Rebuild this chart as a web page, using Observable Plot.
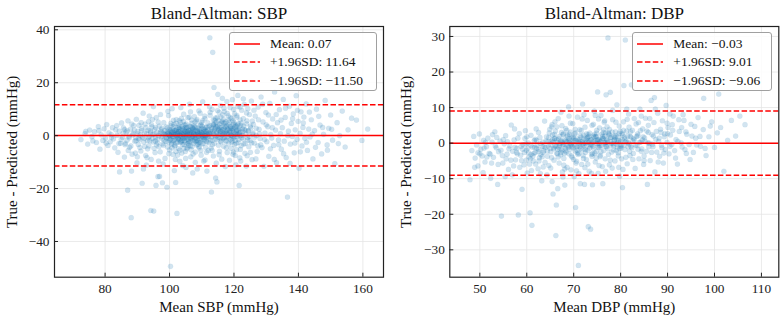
<!DOCTYPE html>
<html>
<head>
<meta charset="utf-8">
<script src="https://cdn.jsdelivr.net/npm/d3@7"></script>
<script src="https://cdn.jsdelivr.net/npm/@observablehq/plot@0.6"></script>
<style>
  body { margin: 0; background: #fff; font-family: "Liberation Serif", serif; }
  #row { display: flex; width: 783px; height: 321px; }
  .panel { position: relative; }
  .legend {
    position: absolute; box-sizing: border-box;
    background: rgba(255,255,255,0.85);
    border: 1px solid #a0a0a0; border-radius: 3px;
    font-family: "Liberation Serif", serif; font-size: 13.5px; color: #111;
  }
  .legend .item { position: absolute; left: 0; display: flex; align-items: center; height: 14px; white-space: nowrap; }
  .legend svg { display: block; }
</style>
</head>
<body>
<div id="row"></div>
<script>
// Bland-Altman points: [mean of true & predicted, true - predicted], mmHg
const sbpPoints = [
  [72.5,-1.5],[73.8,0.8],[74.6,-3.2],[75.2,2.1],[75.9,-0.4],[76.7,1.5],[77.3,-2.6],[77.9,3.4],[78.4,-5.1],[78.8,0.3],[79.3,-1.8],[79.7,2.6],[80.1,-0.9],[80.5,4.2],[80.9,-3.7],
  [81.2,1.1],[81.6,-2.3],[81.9,0.4],[82.3,3.0],[82.6,-1.2],[83.0,-4.6],[83.3,2.2],[83.7,0.1],[84.0,-6.3],[84.5,-13.7],[84.4,1.7],[84.8,-2.9],[85.1,4.8],[85.4,-0.6],[85.7,2.9],[86.0,-8.1],[86.2,-3.4],[86.5,1.3],[86.8,-1.7],[87.0,-20.6],[87.1,5.6],[87.4,-0.2],[87.6,-4.4],[87.9,2.5],[88.1,-31.0],[88.2,-13.4],[88.4,-7.0],[88.7,0.9],[88.9,3.8],[89.2,-2.1],
  [89.5,-0.8],[89.7,6.2],[89.9,-10.3],[90.1,1.6],[90.3,-3.3],[90.5,3.9],[90.7,-1.5],[90.9,0.2],[91.1,-5.8],[91.3,2.7],[91.5,-18.0],[91.6,-0.6],[91.8,8.5],[92.0,-2.4],[92.2,1.0],[92.4,4.4],[92.6,-7.5],[92.8,-11.1],[92.9,0.7],[93.1,-1.9],[93.3,2.0],[93.5,5.3],[93.6,-3.9],[93.8,-0.3],[94.0,1.8],[94.2,-28.3],[94.3,-9.0],[94.5,3.3],[94.6,-1.1],[94.8,0.5],[95.0,11.0],[95.1,-28.5],[95.2,-4.8],[95.4,2.4],[95.6,-0.7],[95.8,-18.8],[95.9,6.8],[96.1,1.2],[96.3,-2.7],[96.4,-15.5],[96.6,0.0],[96.8,3.6],[96.9,-15.4],[97.1,-6.1],[97.3,1.5],
  [97.5,-0.4],[97.6,2.8],[97.8,-17.8],[97.9,-3.1],[98.0,0.9],[98.2,4.9],[98.3,-1.6],[98.5,1.9],[98.6,-8.6],[98.8,0.3],[98.9,-2.2],[99.0,3.3],[99.2,-19.5],[99.3,0.7],[99.4,-4.3],[99.5,1.4],[99.7,7.6],[99.8,-0.9],[99.9,2.3],[100.0,-5.4],[100.1,0.1],[100.2,1.7],[100.3,-49.4],[100.4,-1.3],[100.5,3.8],[100.6,-2.8],[100.7,0.6],[100.8,10.2],[100.9,-0.2],[101.0,2.6],[101.1,-7.1],[101.2,1.1],[101.3,-1.8],[101.4,4.3],[101.5,-13.2],[101.6,0.4],[101.7,-3.6],[101.8,2.0],[101.9,-17.7],[102.0,-0.5],[102.1,6.1],[102.2,1.3],[102.3,-29.4],[102.4,-2.4],[102.5,0.8],[102.6,3.0],[102.7,-0.8],[102.8,-4.9],[102.9,1.6],[103.0,-1.5],[103.1,2.7],[103.2,-9.7],[103.3,0.2],[103.4,5.0],[103.5,-2.0],[103.6,1.0],[103.7,-0.3],[103.8,-6.6],[103.9,3.5],[104.0,0.5],[104.1,-11.3],[104.2,-1.1],[104.3,2.2],[104.4,8.1],[104.5,-3.3],[104.6,0.9],[104.7,1.8],[104.8,-0.6],[104.9,4.0],[105.0,-2.6],[105.1,-12.0],[105.2,0.0],[105.3,2.9],[105.4,-5.0],[105.5,1.4],[105.6,-1.4],[105.7,6.8],[105.8,0.3],[105.9,-3.8],[106.0,2.1],[106.1,-0.7],[106.2,11.9],[106.3,1.2],[106.4,-2.3],[106.5,3.4],[106.6,-8.0],[106.7,0.6],[106.8,-1.0],[106.9,4.6],[107.0,-4.1],[107.1,1.7],[107.2,-14.1],[107.3,-0.4],[107.4,2.5],[107.5,-2.9],[107.6,0.8],[107.7,7.2],[107.8,-1.7],[107.9,3.1],[108.0,-6.2],[108.1,0.1],[108.2,1.9],[108.3,-0.9],[108.4,5.5],[108.5,-3.5],[108.6,-12.6],[108.7,1.3],[108.8,-1.9],[108.9,2.8],[109.0,-0.2],[109.1,9.4],[109.2,-4.6],[109.3,0.7],[109.4,2.2],[109.5,-2.5],[109.6,0.4],[109.7,4.1],[109.8,-7.4],[109.9,1.0],[110.0,-1.2],[110.1,3.6],[110.2,-0.5],[110.3,12.8],[110.4,-3.0],[110.5,1.5],[110.6,-9.6],[110.7,0.2],[110.8,2.4],[110.9,-1.6],[111.0,6.4],[111.1,-0.1],[111.2,-4.4],[111.3,1.8],[111.4,-2.1],[111.5,3.2],[111.6,-13.4],[111.7,0.5],[111.8,-0.8],[111.9,4.8],[112.0,-5.6],[112.1,1.1],
  [98.4,0.5],[99.1,-1.0],[99.6,0.9],[100.2,-0.3],[100.6,1.2],[101.0,-2.0],[101.4,0.7],[101.9,1.8],[102.3,0.0],[102.7,-1.2],[103.1,0.6],[103.5,2.3],[103.9,-1.7],[104.3,0.3],[104.6,-0.9],[105.0,1.6],[105.4,0.4],[105.8,-1.9],[106.2,0.9],[106.6,2.1],[107.0,-0.6],[107.4,1.0],[107.8,0.2],[108.2,-2.2],[108.6,1.4],[109.0,0.8],[109.4,-1.3],[109.8,2.6],[110.2,0.3],[110.6,-0.7],[111.0,1.7],[111.4,0.1],[100.4,4.6],[101.6,-4.0],[102.9,3.9],[104.0,-3.4],[105.2,4.4],[106.4,-3.9],[107.6,3.7],[108.8,-3.2],[110.0,4.9],[103.3,-2.6],[104.8,2.9],[106.0,-2.4],[107.2,2.7],[105.6,3.1],[104.4,-4.8],[103.0,5.7],[102.0,-6.0],[106.8,5.9],
  [112.2,3.3],[112.3,-2.7],[112.4,0.6],[112.5,37.0],[112.6,7.7],[113.0,-21.3],[112.8,1.4],[112.9,-4.7],[113.0,2.9],[113.1,-0.5],[113.2,9.9],[113.3,-1.8],[113.4,31.5],[113.5,4.2],[113.6,-7.7],[113.7,0.9],[113.8,18.2],[113.9,-2.9],[114.0,2.0],[114.1,5.8],[114.3,-16.0],[114.3,-0.2],[114.4,3.7],[114.5,-10.4],[114.6,1.1],[114.7,-17.5],[114.8,6.9],[114.9,-1.4],[115.0,15.6],[115.1,2.5],[115.2,-3.6],[115.3,0.4],[115.4,8.8],[115.5,-5.9],[115.6,3.0],[115.7,-0.8],[115.8,11.4],[115.9,1.6],[116.0,-2.4],[116.1,4.7],[116.2,-8.9],[116.3,0.3],[116.4,14.1],[116.5,2.2],[116.6,-1.1],[116.7,6.2],[116.8,-4.0],[116.9,1.0],[117.0,9.1],[117.1,-0.6],[117.2,3.5],[117.3,-11.7],[117.4,0.8],[117.5,5.3],[117.6,-2.2],[117.7,1.8],[117.8,12.9],[117.9,-6.4],[118.0,2.6],[118.1,-0.3],[118.2,7.5],[118.3,-3.1],[118.4,0.5],[118.5,4.1],[118.6,-9.3],[118.7,1.3],[118.8,10.6],[118.9,-1.5],[119.0,3.2],[119.1,-4.8],[119.2,0.0],[119.3,6.5],[119.4,-2.0],[119.5,13.6],[119.6,1.9],[119.7,-7.0],[119.8,2.8],[119.9,-0.9],[120.0,5.0],[120.1,-3.4],[120.2,8.3],[120.3,0.7],[120.4,-1.8],[120.5,3.9],[120.6,-11.0],[120.7,1.5],[120.8,-5.3],[120.9,7.0],[121.0,-0.4],[121.1,2.3],[121.2,15.2],[121.3,-2.6],[121.4,4.5],[121.6,-18.8],[121.7,0.9],[121.8,-8.4],[121.9,6.0],[122.0,1.2],[122.2,-3.8],[122.4,9.6],[122.6,0.2],[122.8,-1.3],[123.0,3.6],[123.2,11.8],[123.4,-6.7],[123.6,2.0],[123.8,-11.5],[124.0,5.6],[124.2,-0.7],[124.4,1.7],[124.6,-4.2],[124.8,8.0],[125.0,-1.9],[125.2,2.9],[125.4,13.1],[125.6,-9.1],[125.8,0.6],
  [113.8,4.5],[114.5,3.1],[115.2,5.6],[116.0,2.4],[116.8,4.9],[117.5,3.3],[118.3,5.9],[119.1,2.7],[119.9,4.4],[120.7,3.5],[121.5,2.1],[122.3,4.7],[115.6,1.2],[117.0,0.7],[118.9,1.1],[121.0,0.4],[114.2,6.6],[116.5,7.9],[119.6,-0.2],[122.7,2.6],
  [126.0,4.3],[126.3,-2.8],[126.6,7.4],[126.9,0.1],[127.2,-6.0],[127.5,10.8],[127.8,2.4],[128.1,-1.1],[128.4,14.6],[128.7,-4.5],[129.0,5.2],[129.3,-11.6],[129.6,1.0],[129.9,8.7],[130.2,-2.3],[130.5,3.4],[130.8,-7.8],[131.1,12.2],[131.4,0.4],[131.7,-0.9],[132.0,6.3],[132.3,-3.7],[132.6,16.5],[132.9,2.1],[133.2,-10.2],[133.5,4.9],[133.8,-1.6],[134.1,9.8],[134.4,0.8],[134.7,-5.1],[135.0,3.0],[135.3,13.7],[135.6,-2.1],[135.9,6.9],[136.2,-8.3],[136.6,-23.2],[136.9,1.7],[137.2,11.1],[137.5,-3.2],[137.8,4.6],[138.1,-0.3],[138.4,8.2],[138.7,-6.5],[139.0,2.2],[139.3,15.1],[139.6,-1.4],[139.9,5.4],[140.2,-12.3],[140.5,0.9],[140.8,9.0],[141.1,-3.9],[141.4,3.1],[141.7,7.0],[142.0,-1.0],[142.4,12.0],[142.8,-5.6],[143.2,2.5],[143.6,-0.5],[144.0,6.0],[144.5,-8.8],
  [145.0,1.9],[145.6,10.0],[146.1,-2.6],[146.7,4.0],[147.2,-6.9],[147.8,0.5],[148.3,13.3],[148.9,-3.5],[149.4,2.8],[150.0,7.8],[150.6,-1.7],[151.3,-10.6],[152.0,4.9],[152.8,0.0],[153.6,9.3],[154.5,-4.3],[155.4,2.2],[156.5,6.6],[158.0,5.9],[159.7,-1.8],[161.5,2.5],
  // denser core between 93 and 128 mmHg
  [93.4,-0.8],[94.1,1.3],[94.9,-2.4],[95.3,0.6],[95.7,3.1],[96.2,-1.4],[96.7,-4.2],[97.0,0.9],[97.4,2.2],[97.7,-1.1],[98.1,-3.6],[98.7,1.0],[99.0,-0.6],[99.3,2.9],[99.6,-2.5],[99.9,0.4],[100.1,-1.7],[100.3,2.0],[100.5,0.2],[100.7,-3.3],[100.9,1.5],[101.1,3.4],[101.3,-0.4],[101.5,1.9],[101.7,-1.5],[101.9,0.3],[102.1,-2.8],[102.2,2.4],[102.4,0.9],[102.6,-0.9],[102.8,1.4],[103.0,3.2],[103.2,-0.1],[103.4,1.7],[103.6,-2.3],[103.8,0.8],[104.0,2.6],[104.2,-0.8],[104.4,1.1],[104.5,4.1],[104.7,-1.9],[104.9,0.6],[105.1,2.3],[105.3,-0.6],[105.5,1.0],[105.7,-3.0],[105.9,1.9],[106.1,0.2],[106.3,3.6],[106.5,-1.2],[106.7,1.3],[106.9,-0.2],[107.1,2.9],[107.3,-2.0],[107.5,0.7],[107.7,1.8],[107.9,-1.0],[108.1,3.3],[108.3,0.4],[108.5,-1.7],[108.7,2.0],[108.9,0.0],[109.1,-2.6],[109.3,1.6],[109.5,3.9],[109.7,-0.5],[109.9,1.2],[110.1,-3.1],[110.3,0.7],[110.5,2.6],[110.7,-1.3],[110.9,0.9],[111.1,3.1],[111.3,-0.6],[111.5,1.4],[111.7,-2.4],[111.9,2.2],[112.1,-0.3],[112.3,1.0],[112.5,3.8],[112.7,-1.6],[112.9,0.8],[113.1,2.5],[113.3,-3.4],[113.5,1.7],[113.7,4.0],[113.9,0.1],[114.1,2.8],[114.3,-1.2],[114.5,5.0],[114.7,1.4],[114.9,3.5],[115.1,-0.6],[115.3,2.1],[115.5,4.4],[115.7,0.6],[115.9,-2.0],[116.1,3.0],[116.3,5.3],[116.5,1.0],[116.7,-0.7],[116.9,2.7],[117.1,4.6],[117.3,1.5],[117.5,-1.8],[117.7,3.7],[117.9,0.9],[118.1,2.2],[118.3,-0.9],[118.5,4.9],[118.7,1.8],[118.9,3.4],[119.1,0.2],[119.3,-2.5],[119.5,2.5],[119.7,5.6],[119.9,1.3],[120.1,-0.4],[120.3,3.2],[120.5,0.8],[120.7,-2.9],[120.9,2.0],[121.1,4.1],[121.3,0.5],[121.5,-1.5],[121.7,2.8],[121.9,0.1],[122.1,3.9],[122.4,-0.8],[122.7,1.5],[123.0,-3.2],[123.3,2.3],[123.6,0.6],[123.9,4.5],[124.2,-1.6],[124.5,1.9],[124.8,-0.2],[125.1,3.6],[125.5,-2.7],[125.9,1.1],[126.4,-0.6],[126.9,2.8],[127.4,-3.9],[127.9,0.7],
  [85.0,-1.4],[85.6,0.9],[86.3,-2.9],[86.9,1.8],[87.5,-0.8],[88.0,-3.9],[88.6,0.3],[89.1,2.1],[89.6,-1.9],[90.2,0.7],[90.8,-4.5],[91.4,1.9],[92.1,-1.0],[92.7,3.0],[93.2,-5.0],[93.9,-2.0],[94.4,4.2],[95.5,-6.4],[96.0,-3.5],[96.5,5.1],
  [99.8,-6.8],[101.2,5.8],[102.5,-7.3],[103.7,6.5],[104.9,-6.0],[106.1,7.0],[107.3,-6.9],[108.5,6.1],[109.7,-5.6],[110.9,7.4],[100.8,-4.6],[102.0,4.6],[103.2,-5.5],[104.3,5.4],[105.5,-4.5],[106.7,-5.3],[107.9,5.2],[109.1,-4.1],[110.3,5.7],[111.5,-6.3],
  [112.6,8.8],[113.6,6.0],[114.9,9.5],[115.9,7.0],[116.9,10.4],[117.9,8.4],[118.9,6.8],[119.9,9.9],[120.9,7.6],[121.9,10.8],[122.9,6.4],[123.9,8.6],[113.2,-5.6],[115.4,-7.2],[117.6,-4.6],[119.8,-6.2],[122.0,-5.2],[124.1,-7.6],
  // wider scatter on both sides of the core
  [86.1,2.3],[87.2,-5.6],[88.3,4.4],[89.4,-6.6],[90.4,-1.1],[91.2,4.9],[92.3,-4.1],[93.0,-8.3],[94.7,6.1],[95.6,-2.0],[96.6,-9.6],[97.2,8.0],[90.0,-8.0],[93.7,7.4],[91.9,-12.6],
  [120.4,-7.5],[121.2,11.0],[122.1,-9.6],[122.9,13.9],[123.5,-3.0],[124.3,10.2],[125.1,-6.3],[125.7,5.5],[126.2,9.6],[126.8,-8.8],[127.6,6.0],[128.3,-3.5],[128.9,11.9],[129.5,-1.5],[130.0,4.1],[130.7,7.8],[131.3,-5.0],[131.9,3.0],[132.5,-9.0],[133.1,8.0],[133.9,-3.4],[134.6,5.9],[135.4,-6.8],[136.0,10.4],[136.7,0.0],[137.4,-10.5],[138.2,6.4],[138.9,-2.8],[139.7,9.6],[140.6,-6.1],[141.5,4.8],[142.5,-2.5],[143.4,8.9],[144.3,0.6],[145.3,-4.4],[146.3,7.3],[147.5,3.1],[149.0,-5.5],[150.3,2.4],[152.4,-3.0],
  [98.0,-10.7],[99.5,9.2],[101.8,-9.0],[103.5,10.6],[105.0,-8.6],[106.5,9.0],[108.0,-10.1],[109.5,8.5],[111.0,-9.2],[112.4,10.9],
  [74.0,1.6],[76.2,-2.0],[78.1,1.9],[80.3,-2.8],[82.0,-0.6],[83.6,3.8],[84.3,-3.0]
];

const dbpPoints = [
  [47.9,-10.3],[48.3,-2.1],[48.7,1.9],[49.0,-4.2],[49.3,-0.5],[49.6,-6.4],[49.9,2.6],[50.2,-1.7],[50.5,-3.6],[50.8,0.8],[51.1,-5.3],[51.4,-1.0],[51.7,1.4],[52.0,-2.9],[52.3,-9.9],[52.6,0.3],[52.9,-4.0],[53.2,3.2],[53.5,-1.3],[53.8,-11.6],[54.0,-2.4],[54.3,0.6],[54.6,-20.5],[54.9,-5.6],[55.2,-0.2],[55.5,2.1],[55.8,-3.1],[56.1,-7.4],[56.4,-0.8],[56.7,5.1],
  [57.0,-2.3],[57.3,0.9],[57.6,-4.7],[57.9,-1.5],[58.2,-20.2],[58.4,2.7],[58.7,-3.4],[59.0,-13.0],[59.2,-0.4],[59.4,-6.1],[59.6,1.3],[59.9,-2.0],[60.1,-8.4],[60.3,0.1],[60.5,-3.9],[60.7,-19.6],[60.9,2.2],[61.1,-23.1],[61.2,-1.1],[61.4,-5.0],[61.6,0.7],[61.8,-2.6],[62.0,4.0],[62.2,-0.6],[62.4,-7.2],[62.6,-1.8],[62.8,1.6],[63.0,-3.3],[63.2,-10.6],[63.4,0.3],[63.6,-2.2],[63.8,6.2],[57.5,-1.2],[58.0,-3.0],[58.8,-0.9],[59.5,-2.6],[60.2,-1.4],[60.8,-4.4],[61.5,-2.9],[62.1,-1.5],[62.7,-4.1],[63.3,-0.9],[63.9,-5.4],[58.5,-6.8],[61.0,-7.7],[62.5,3.0],[56.9,-8.9],[60.0,1.8],[59.7,3.5],[62.9,-8.6],
  [64.0,-1.2],[64.2,1.8],[64.4,-3.7],[64.5,0.5],[64.7,-6.3],[64.8,2.9],[65.0,-0.3],[65.1,-2.4],[65.3,4.6],[65.4,-10.8],[65.5,0.9],[65.6,-14.3],[65.7,-1.6],[65.8,-4.8],[65.9,1.3],[66.0,-0.7],[66.1,3.4],[66.2,-26.0],[66.3,-17.4],[66.4,-2.8],[66.5,0.2],[66.6,-12.8],[66.7,6.9],[66.8,-1.1],[66.9,-5.6],[67.0,1.9],[67.1,-0.2],[67.2,-3.3],[67.3,8.7],[67.4,0.6],[67.5,-1.9],[67.6,-8.1],[67.7,2.4],[67.8,-0.5],[67.9,-4.3],[68.0,1.0],[68.1,-11.8],[68.2,-1.4],[68.3,4.1],[68.4,-2.5],[68.5,0.4],[68.6,-6.8],[68.7,2.0],[68.8,-0.9],[68.9,10.2],[69.0,-3.0],[69.1,0.8],[69.2,-1.7],[69.3,3.1],[69.4,-7.5],[69.5,-0.1],[69.6,1.5],[69.7,-4.0],[69.8,5.5],[69.9,-1.3],[70.0,0.3],[70.1,-9.4],[70.2,2.6],[70.3,-2.2],[70.4,-18.1],[70.5,0.7],[70.6,-5.1],[70.7,1.2],[70.8,7.3],[70.9,-0.8],[71.0,-34.4],[71.1,-2.9],[71.2,0.0],[71.3,3.8],[71.4,-11.4],[71.5,-1.5],[71.6,1.7],[71.7,-6.0],[71.8,0.5],[71.9,11.0],[72.0,-3.5],[72.1,2.2],[72.2,-0.6],[72.3,-11.6],[72.4,4.5],[72.5,-1.8],[72.6,0.9],[72.7,-4.6],[72.8,1.4],[72.9,6.4],[73.0,-2.0],[73.1,-23.5],[73.2,0.2],[73.3,-7.9],[73.4,2.8],[73.5,-0.4],[73.6,-24.2],[73.7,1.1],[73.8,-3.1],[73.9,5.0],[74.0,-11.7],[74.1,-0.9],[74.2,2.0],[74.3,-1.6],[74.4,9.0],[74.5,0.6],[74.6,-5.3],[74.7,1.9],[74.8,-2.4],[74.9,3.6],[75.0,-0.2],[75.1,14.4],[75.2,-8.5],[75.3,1.0],[75.4,-1.2],[75.5,4.3],[75.6,-3.8],[75.7,0.4],[75.8,7.8],[75.9,-0.7],[76.0,2.5],[76.1,-6.6],[76.2,-11.4],[76.3,1.3],[76.4,-2.1],[76.5,5.9],[76.6,0.1],[76.7,-4.4],[76.8,2.9],[76.9,13.6],[77.0,-1.0],[77.1,0.8],[77.3,29.6],[77.4,-3.2],[77.6,3.9],[77.8,14.3],[77.9,-0.5],[78.0,1.6],[78.2,-7.0],[78.3,6.6],[78.5,-1.9],[78.6,0.7],[78.8,-5.0],[78.9,3.2],[79.1,-0.3],[79.2,10.8],[79.4,1.8],[79.5,-2.7],[79.7,4.8],[79.8,-9.3],[80.0,0.5],[80.1,-1.4],[80.3,2.7],[80.4,-12.5],[80.6,6.0],[80.7,-0.6],[80.9,1.2],[81.0,29.0],[81.1,-4.0],[81.3,3.4],[81.4,-5.8],[81.6,0.2],[81.7,8.2],[81.9,-2.3],[82.0,1.9],[82.2,-0.9],[82.3,16.4],
  [64.6,-0.8],[65.2,0.4],[65.8,-1.3],[66.4,0.9],[67.0,-0.6],[67.6,0.2],[68.2,-2.1],[68.8,0.6],[69.4,-0.4],[70.0,1.4],[70.6,-1.0],[71.2,0.9],[71.8,-1.9],[72.4,0.0],[73.0,1.6],[73.6,-0.7],[74.2,0.4],[74.8,1.8],[75.4,-0.1],[76.0,0.9],[76.6,2.0],[77.2,0.3],[77.8,1.5],[78.4,-0.2],[79.0,2.1],[79.6,0.8],[80.2,-0.5],[80.8,1.7],[65.5,2.3],[67.3,-2.6],[69.1,2.5],[70.9,-3.2],[72.7,2.6],[74.5,-2.9],[76.3,3.0],[78.1,-2.5],[79.9,3.3],[66.7,-3.9],[68.5,3.6],[70.3,3.9],[72.1,-4.3],[73.9,-3.7],[75.7,-3.4],[77.5,2.6],[79.3,-1.1],[71.5,0.4],[73.3,0.7],[75.1,1.1],[76.9,-0.9],[78.7,1.0],
  [82.5,3.6],[82.7,-2.9],[82.9,0.9],[83.1,-7.1],[83.3,5.4],[83.5,-0.7],[83.7,2.1],[83.9,-4.4],[84.1,9.6],[84.3,0.3],[84.5,-1.6],[84.7,4.0],[84.9,-6.0],[85.1,1.5],[85.3,7.0],[85.5,-2.3],[85.7,-11.6],[85.9,3.0],[86.1,0.0],[86.3,-4.9],[86.5,12.0],[86.7,2.4],[86.9,-1.0],[87.1,5.8],[87.3,-8.1],[87.5,1.1],[87.7,-2.5],[87.9,8.4],[88.1,0.5],[88.3,-3.7],[88.5,3.9],[88.7,-0.6],[88.9,6.3],[89.1,-5.6],[89.3,1.8],[89.5,-1.8],[89.7,10.6],[89.9,0.2],[90.1,4.4],[90.3,-3.0],[90.6,2.3],[90.9,-0.4],[91.2,7.6],[91.5,-2.1],[91.8,1.0],[82.6,0.6],[83.4,1.9],[84.6,0.9],[85.8,0.1],[87.0,2.0],[88.2,1.4],[89.4,2.6],
  [92.1,-5.9],[92.5,3.3],[92.9,0.1],[93.3,8.0],[93.7,-1.8],[94.1,2.5],[94.6,-0.4],[95.0,5.3],[95.5,-2.6],[96.0,1.4],[96.5,7.2],[97.0,-0.9],[97.6,3.8],[98.2,-3.5],[98.8,1.8],[99.4,6.0],[100.0,-1.2],[100.6,2.9],[101.3,4.4],[102.0,-7.9],[102.8,0.8],[103.6,6.4],[104.5,2.0],[105.4,7.6],[106.5,5.2],
  [87.2,12.8],[97.7,12.6],[100.9,13.8],[80.7,16.2],
  // denser core between 60 and 87 mmHg
  [60.4,-2.7],[60.9,-0.6],[61.3,-3.6],[61.7,-1.2],[62.1,0.8],[62.5,-2.4],[62.9,-0.1],[63.3,-3.8],[63.7,-1.0],[64.1,0.6],[64.4,-2.2],[64.7,1.6],[65.0,-1.5],[65.3,-4.1],[65.6,0.3],[65.9,2.5],[66.2,-0.9],[66.5,-3.0],[66.8,1.2],[67.1,-1.8],[67.4,3.0],[67.7,-0.3],[68.0,-2.9],[68.3,0.7],[68.6,2.2],[68.9,-1.2],[69.2,0.1],[69.5,-3.6],[69.8,1.8],[70.1,-0.6],[70.4,2.9],[70.7,-2.0],[71.0,0.5],[71.3,-1.0],[71.6,3.5],[71.9,-0.4],[72.2,1.3],[72.5,-2.6],[72.8,0.2],[73.1,2.4],[73.4,-1.4],[73.7,0.9],[74.0,-3.0],[74.3,1.7],[74.6,0.0],[74.9,2.8],[75.2,-1.1],[75.5,0.6],[75.8,-2.4],[76.1,1.9],[76.4,3.8],[76.7,-0.3],[77.0,1.2],[77.3,-1.6],[77.6,2.3],[77.9,0.4],[78.2,3.1],[78.5,-0.8],[78.8,1.6],[79.1,-2.1],[79.4,0.2],[79.7,2.7],[80.0,-0.9],[80.3,1.0],[80.6,3.6],[80.9,-1.8],[81.2,0.6],[81.5,2.0],[81.8,-0.2],[82.1,3.2],[82.4,-1.3],[82.8,1.3],[83.2,-0.5],[83.6,2.6],[84.0,0.2],[84.4,-2.3],[84.8,1.8],[85.2,0.5],[85.6,3.4],[86.0,-1.0],
  [66.0,1.4],[66.6,-1.7],[67.2,0.5],[67.8,2.6],[68.4,-0.6],[69.0,1.3],[69.6,-1.0],[70.2,0.8],[70.8,-2.7],[71.4,2.1],[72.0,0.0],[72.6,-1.1],[73.2,1.9],[73.8,-0.4],[74.4,2.5],[75.0,0.8],[75.6,-0.8],[76.2,1.4],[76.8,0.2],[77.4,2.9],[78.0,-0.1],[78.6,1.9],[79.2,0.7],[79.8,-1.5],[80.4,2.3],[81.0,0.3],[81.6,-1.0],[82.2,1.7],
  [61.9,-5.9],[63.5,-6.7],[65.1,-7.0],[66.4,4.6],[67.9,-6.2],[69.3,5.6],[70.5,-5.6],[71.8,6.8],[73.0,-5.9],[74.2,5.3],[75.4,-6.3],[76.6,6.3],[77.8,-4.8],[79.0,5.9],[80.2,-4.4],[81.4,6.7],[82.6,-4.6],[83.8,5.8],[85.0,-3.6],[86.2,6.9],[64.9,3.9],[67.5,4.9],[70.0,-4.6],[72.4,-6.9],[74.8,-4.2],[77.1,4.6],[79.5,-3.6],[81.8,4.5],[84.2,3.5],[86.6,-2.6],
  [49.6,-2.7],[50.9,-1.4],[52.2,-3.1],[53.3,-0.8],[54.5,-2.0],[55.6,-4.4],[56.2,-1.6],[57.8,-2.6],[58.9,-4.9],[59.8,-0.2],[60.6,-5.9],[55.0,1.0],[51.5,-3.9],[53.9,-6.0],
  [87.6,3.3],[88.8,-1.3],[90.0,2.7],[91.0,5.2],[92.2,0.5],[93.0,4.4],[94.0,-2.9],[95.2,2.0],[96.2,-0.5],[90.5,8.2],[93.5,6.4],
  // wider scatter on both sides of the core
  [50.0,-3.0],[51.2,0.2],[52.5,-5.6],[53.6,1.6],[54.8,-3.5],[55.9,0.4],[56.6,-4.8],[57.2,-6.4],[58.1,1.4],[59.1,-1.7],[59.9,-4.8],[60.9,-3.2],[61.8,1.1],[62.6,-5.0],[63.5,-2.6],[48.9,-6.8],[50.7,-8.3],[52.7,2.4],[55.4,-9.4],[57.4,4.0],
  [80.5,-7.4],[81.3,9.6],[82.0,-3.5],[82.9,6.9],[83.7,-1.7],[84.4,7.6],[85.0,-4.9],[85.9,5.0],[86.8,-0.3],[87.4,9.6],[88.0,-5.3],[88.6,3.0],[89.2,-2.8],[89.9,5.6],[90.5,-0.9],[91.1,3.6],[91.7,-4.2],[92.4,6.6],[93.1,-1.1],[93.9,3.2],[94.8,-4.6],[95.8,4.7],[96.9,1.9],[98.0,-1.5],[99.1,4.8],
  [64.3,-8.9],[66.0,6.0],[67.7,-9.5],[69.0,7.6],[70.6,-7.8],[72.2,8.0],[73.8,-8.5],[75.3,6.8],[76.8,-7.9],[78.3,9.2],[79.6,-6.8],[65.4,5.2],[68.1,-7.3],[71.1,-8.6],[74.6,7.8],[77.6,-6.1]
];

// Mean difference and limits of agreement (mean ± 1.96 SD)
const statNames = ["Mean", "+1.96SD", "\u22121.96SD"];
const sbpStats = [0.07, 11.64, -11.50];
const dbpStats = [-0.03, 9.01, -9.06];

const sbpTicksX = [80, 100, 120, 140, 160];
const sbpTicksY = [-40, -20, 0, 20, 40];
const dbpTicksX = [50, 60, 70, 80, 90, 100, 110];
const dbpTicksY = [-30, -20, -10, 0, 10, 20, 30];

const fmt = v => (v < 0 ? "\u2212" : "") + Math.abs(v).toFixed(2);
const dashes = [null, "5.5,2.4", "5.5,2.4"];

function panel(cfg) {
  const [mean, upper, lower] = cfg.stats;
  const plot = Plot.plot({
    width: cfg.width,
    height: 321,
    marginLeft: cfg.ml,
    marginRight: cfg.mr,
    marginTop: 26,
    marginBottom: 44.3,
    style: { fontFamily: "Liberation Serif, serif", fontSize: "13.3px", color: "#222", background: "#fff" },
    x: { domain: cfg.xDomain, label: null },
    y: { domain: cfg.yDomain, label: null },
    marks: [
      Plot.gridX(cfg.ticksX, { stroke: "#e4e4e4", strokeOpacity: 1, strokeWidth: 0.8 }),
      Plot.gridY(cfg.ticksY, { stroke: "#e4e4e4", strokeOpacity: 1, strokeWidth: 0.8 }),
      Plot.dot(cfg.points, { x: d => d[0], y: d => d[1], r: 2.6, fill: "#1f77b4", fillOpacity: 0.2, stroke: "#1f77b4", strokeOpacity: 0.08, strokeWidth: 0.5 }),
      Plot.ruleY([mean], { stroke: "#ff0000", strokeWidth: 1.5 }),
      Plot.ruleY([upper, lower], { stroke: "#ff0000", strokeWidth: 1.5, strokeDasharray: "5.5,2.4" }),
      Plot.axisX(cfg.ticksX, { tickSize: -4, tickPadding: 10, stroke: "#222" }),
      Plot.axisY(cfg.ticksY, { tickSize: -4, tickPadding: 9, stroke: "#222", tickFormat: d => (d < 0 ? "\u2212" : "") + Math.abs(d) }),
      Plot.frame({ stroke: "#222", strokeWidth: 1.2 }),
      Plot.text([cfg.title], { frameAnchor: "top", dy: -13, lineAnchor: "middle", fontSize: 17, fill: "#111" }),
      Plot.text([cfg.xLabel], { frameAnchor: "bottom", dy: 30, lineAnchor: "middle", fontSize: 15, fill: "#111" }),
      Plot.text(["True - Predicted (mmHg)"], { frameAnchor: "left", dx: cfg.yLabelDx, rotate: -90, textAnchor: "middle", lineAnchor: "middle", fontSize: 15, fill: "#111" })
    ]
  });

  const wrap = document.createElement("div");
  wrap.className = "panel";
  wrap.style.width = cfg.width + "px";
  wrap.appendChild(plot);

  // legend box for the three reference lines
  const lg = document.createElement("div");
  lg.className = "legend";
  Object.assign(lg.style, { left: cfg.legend.left + "px", top: "32px", width: cfg.legend.width + "px", height: "59px" });
  cfg.stats.forEach((v, i) => {
    const it = document.createElement("div");
    it.className = "item";
    it.style.top = (3.5 + i * 18.7) + "px";
    it.innerHTML =
      `<svg width="40" height="14"><line x1="4" x2="30" y1="7" y2="7" stroke="#ff0000" stroke-width="1.5"${dashes[i] ? ` stroke-dasharray="${dashes[i]}"` : ""}/></svg>` +
      `<span>${statNames[i]}: ${fmt(v)}</span>`;
    lg.appendChild(it);
  });
  wrap.appendChild(lg);
  return wrap;
}

const row = document.getElementById("row");
row.appendChild(panel({
  width: 391, ml: 54, mr: 8,
  points: sbpPoints, stats: sbpStats,
  xDomain: [64.3, 166.4], yDomain: [-53.5, 41.25],
  ticksX: sbpTicksX, ticksY: sbpTicksY,
  title: "Bland-Altman: SBP", xLabel: "Mean SBP (mmHg)", yLabelDx: -42,
  legend: { left: 229, width: 148 }
}));
row.appendChild(panel({
  width: 392, ml: 58.3, mr: 4.7,
  points: dbpPoints, stats: dbpStats,
  xDomain: [43.6, 113.7], yDomain: [-37.7, 32.8],
  ticksX: dbpTicksX, ticksY: dbpTicksY,
  title: "Bland-Altman: DBP", xLabel: "Mean DBP (mmHg)", yLabelDx: -44,
  legend: { left: 241.3, width: 139.5 }
}));
</script>
</body>
</html>
